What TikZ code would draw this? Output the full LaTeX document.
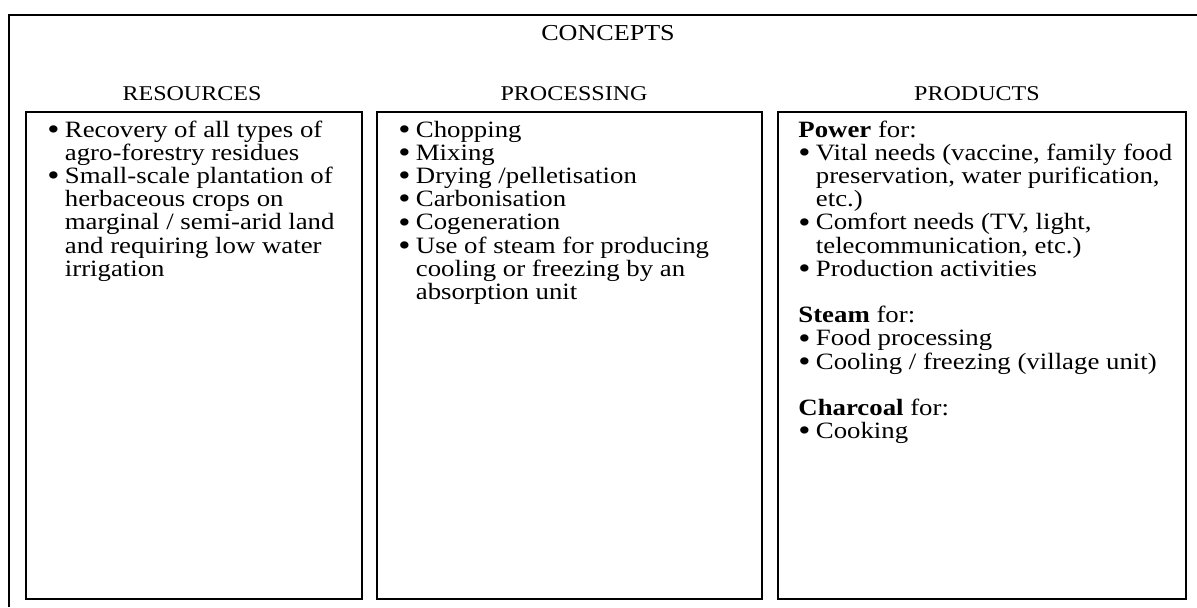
\documentclass[tikz,border=0pt]{standalone}
\usepackage{fontspec}
\usepackage{graphicx}
\setmainfont{Liberation Serif}[FakeStretch=1.145]

% bullet and hanging indent for the lists
\newcommand\bul{\makebox[8.75pt][l]{\smash{\raisebox{-0.1em}{\scalebox{1.3}{\textbullet}}}}}
\newcommand\cont{\hspace*{8.75pt}}
\newcommand\listtext[2]{\parbox[t]{#1}{\raggedright\lineskiplimit=-20pt #2}}

\begin{document}
\begin{tikzpicture}[x=0.5pt,y=-0.5pt,
    frameline/.style={line width=1pt},
    colbox/.style={draw,line width=1pt,inner sep=0pt,anchor=north west,minimum height=243.5pt},
    title/.style={inner sep=0pt,anchor=base,font=\fontsize{11.4pt}{13pt}\selectfont},
    colhead/.style={inner sep=0pt,anchor=base,font=\fontsize{10.5pt}{13pt}\selectfont},
    items/.style={inner sep=0pt,anchor=base west,font=\fontsize{11.7pt}{11.6pt}\selectfont}]

  \useasboundingbox (0,0) rectangle (1197,607);

  % outer frame, only top and left edges show
  \coordinate (frametl) at (8.5,15);
  \coordinate (frametr) at (1197,15);
  \coordinate (framebl) at (8.5,607);
  \draw[frameline] (frametr) -- (frametl) -- (framebl);

  \node[title] (concepts) at (608,40) {CONCEPTS};

  % column boxes
  \node[colbox,minimum width=168pt]   (res)  at (25,111)  {};
  \node[colbox,minimum width=192.5pt] (proc) at (376,111) {};
  \node[colbox,minimum width=204pt]   (prod) at (777,111) {};

  \node[colhead] (reshead)  at (192,100) {RESOURCES};
  \node[colhead] (prochead) at (574,100) {PROCESSING};
  \node[colhead] (prodhead) at (977,100) {PRODUCTS};

  \node[items] (resitems) at (47,137) {\listtext{155pt}{%
    \bul Recovery of all types of\\
    \cont agro-forestry residues\\
    \bul Small-scale plantation of\\
    \cont herbaceous crops on\\
    \cont marginal / semi-arid land\\
    \cont and requiring low water\\
    \cont irrigation}};

  \node[items] (procitems) at (398,137) {\listtext{178pt}{%
    \bul Chopping\\
    \bul Mixing\\
    \bul Drying /pelletisation\\
    \bul Carbonisation\\
    \bul Cogeneration\\
    \bul Use of steam for producing\\
    \cont cooling or freezing by an\\
    \cont absorption unit}};

  \node[items] (proditems) at (798,137) {\listtext{192pt}{%
    \textbf{Power} for:\\
    \bul Vital needs (vaccine, family food\\
    \cont preservation, water purification,\\
    \cont etc.)\\
    \bul Comfort needs (TV, light,\\
    \cont telecommunication, etc.)\\
    \bul Production activities\\[11.6pt]
    \textbf{Steam} for:\\
    \bul Food processing\\
    \bul Cooling / freezing (village unit)\\[11.6pt]
    \textbf{Charcoal} for:\\
    \bul Cooking}};

\end{tikzpicture}
\end{document}
